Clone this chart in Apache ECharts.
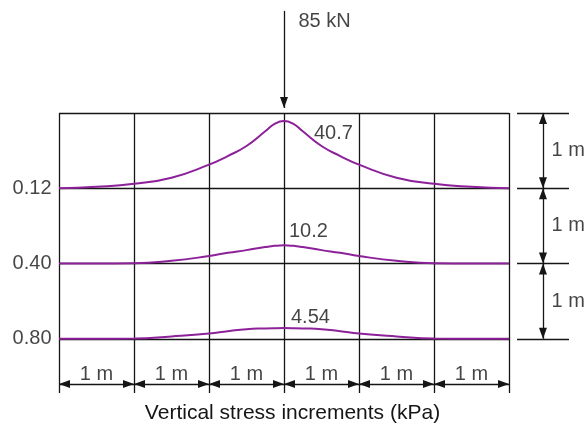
<!DOCTYPE html>
<html>
<head>
<meta charset="utf-8">
<script src="https://cdn.jsdelivr.net/npm/echarts@6/dist/echarts.min.js"></script>
<style>
  html, body { margin: 0; padding: 0; background: #fff; }
  #main { width: 585px; height: 424px; }
</style>
</head>
<body>
<div id="main"></div>
<script>
// horizontal distance from the point load (m)
const offsets = [-3, -2.5, -2, -1.5, -1, -0.75, -0.5, -0.25, -0.125, 0, 0.125, 0.25, 0.5, 0.75, 1, 1.5, 2, 2.5, 3];
// depth of each stress profile (m)
const depths = [1, 2, 3];
const depthLabels = ['0.12', '0.40', '0.80'];
const peakLabels = ['40.7', '10.2', '4.54'];
// vertical stress increments (kPa)
const stressZ1 = [0, 0.9, 2.7, 6.4, 14.3, 19.5, 25.6, 34.5, 39.0, 40.7, 39.0, 34.5, 25.6, 19.5, 14.3, 6.4, 2.7, 0.9, 0];
const stressZ2 = [0, 0, 0.1, 1.5, 4.2, 6.0, 7.5, 9.2, 9.9, 10.2, 9.9, 9.2, 7.5, 6.0, 4.2, 1.5, 0.1, 0, 0];
const stressZ3 = [0, 0, 0.1, 1.0, 2.2, 3.2, 4.1, 4.4, 4.5, 4.54, 4.5, 4.4, 4.1, 3.2, 2.2, 1.0, 0.1, 0, 0];
const loadLabel = '85 kN';
const spanLabel = '1 m';
const xTitle = 'Vertical stress increments (kPa)';

const profiles = [stressZ1, stressZ2, stressZ3];
// drawing exaggeration of each profile (m of drawing per kPa)
const drawScale = [0.0219, 0.0237, 0.0313];

const gridX = [-3, -2, -1, 0, 1, 2, 3];
const bottomEnd = 3.72; // verticals run below the last profile
const dimY = 3.6; // bottom dimension line
const dimX = 3.453; // right dimension line
const tickFrom = 3.107;
const tickTo = 3.8;

const ink = '#151515';
const purple = '#8c2199';
const font = "'Liberation Sans', Arial, sans-serif";

var myChart = echarts.init(document.getElementById('main'));

// frame lines
const frame = [];
gridX.forEach(function (x) {
  frame.push([{ coord: [x, 0] }, { coord: [x, bottomEnd] }]);
});
[0].concat(depths).forEach(function (d) {
  frame.push([{ coord: [-3, d] }, { coord: [3, d] }]);
  frame.push([{ coord: [tickFrom, d] }, { coord: [tickTo, d] }]);
});

// dimension arrows
const dims = [];
for (let i = 0; i < gridX.length - 1; i++) {
  dims.push([{ coord: [gridX[i], dimY] }, { coord: [gridX[i + 1], dimY] }]);
}
[0].concat(depths).slice(0, 3).forEach(function (d) {
  dims.push([{ coord: [dimX, d] }, { coord: [dimX, d + 1] }]);
});

// texts
const notes = [];
depths.forEach(function (d, i) {
  notes.push({
    value: [-3, d],
    label: { formatter: depthLabels[i], position: 'left', distance: 7 },
  });
  notes.push({
    value: [dimX, d - 0.5],
    label: { formatter: spanLabel, position: 'right', distance: 8 },
  });
});
for (let i = 0; i < gridX.length - 1; i++) {
  notes.push({
    value: [gridX[i] + 0.5, 3.48],
    label: { formatter: spanLabel, position: 'inside' },
  });
}
notes.push({
  value: [0, -1.21],
  label: { formatter: loadLabel, position: 'right', distance: 14 },
});
const peakOffsets = [[30, 12], [5, -14], [7, -11]];
profiles.forEach(function (p, i) {
  const k = p.indexOf(Math.max.apply(null, p));
  notes.push({
    value: [offsets[k], depths[i] - p[k] * drawScale[i]],
    label: {
      formatter: peakLabels[i],
      position: 'inside',
      align: 'left',
      offset: peakOffsets[i],
    },
  });
});

const curves = profiles.map(function (p, i) {
  return {
    type: 'line',
    data: offsets.map(function (x, j) {
      return [x, depths[i] - p[j] * drawScale[i]];
    }),
    smooth: 0.5,
    symbol: 'none',
    lineStyle: { color: purple, width: 2 },
    z: 5,
    silent: true,
  };
});

var option = {
  animation: false,
  title: {
    text: xTitle,
    left: 'center',
    top: 403,
    padding: 0,
    textStyle: { fontFamily: font, fontSize: 21, fontWeight: 'normal', color: ink },
  },
  grid: { left: 59, right: 16, top: 0, bottom: 31 },
  xAxis: { type: 'value', min: -3, max: 3.8, show: false },
  yAxis: { type: 'value', min: -1.5, max: bottomEnd, inverse: true, show: false },
  series: [
    {
      type: 'line',
      data: [],
      silent: true,
      markLine: {
        silent: true,
        symbol: 'none',
        animation: false,
        label: { show: false },
        lineStyle: { color: ink, width: 1.3, type: 'solid' },
        data: frame,
      },
    },
    {
      type: 'line',
      data: [],
      silent: true,
      markLine: {
        silent: true,
        symbol: ['triangle', 'triangle'],
        symbolSize: [8, 11],
        // start / end: pull each head inwards so its tip sits on the end point
        symbolOffset: [[0, '50%'], [0, '50%']],
        animation: false,
        label: { show: false },
        lineStyle: { color: ink, width: 1.3, type: 'solid' },
        itemStyle: { color: ink },
        data: dims.concat([[{ coord: [0, -1.355], symbol: 'none' }, { coord: [0, -0.066] }]]),
      },
    },
  ].concat(curves, [
    {
      type: 'scatter',
      symbolSize: 1,
      itemStyle: { color: 'rgba(0,0,0,0)' },
      silent: true,
      clip: false,
      z: 10,
      label: {
        show: true,
        fontFamily: font,
        fontSize: 20,
        color: ink,
      },
      data: notes,
    },
  ]),
};
myChart.setOption(option);
window.addEventListener('resize', function () {
  myChart.resize();
});
</script>
</body>
</html>
